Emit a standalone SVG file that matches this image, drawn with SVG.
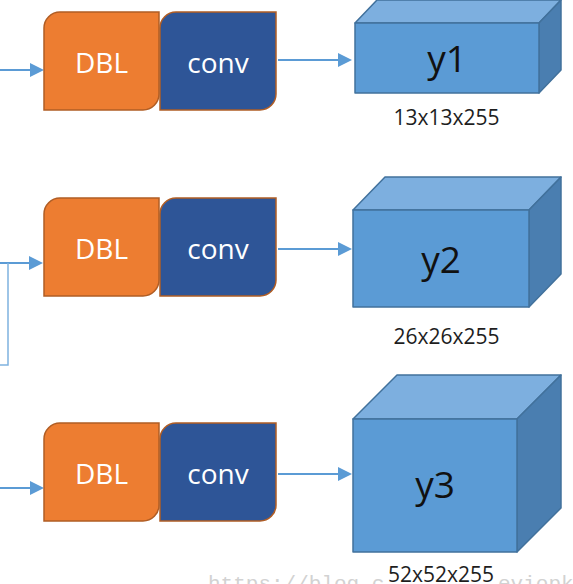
<svg xmlns="http://www.w3.org/2000/svg" width="573" height="584" viewBox="0 0 573 584">
<style>
.dbl{fill:#ED7D31;stroke:#B05D24;stroke-width:1.5}
.conv{fill:#2E5597;stroke:#B05D24;stroke-width:1.5}
.bt{font-family:"Open Sans","Noto Sans",sans-serif;font-size:28px;fill:#ffffff;text-anchor:middle}
.front{fill:#5B9BD5;stroke:#41719C;stroke-width:1.5;stroke-linejoin:round}
.top{fill:#7DAFDF;stroke:#41719C;stroke-width:1.5;stroke-linejoin:round}
.side{fill:#4A7EB0;stroke:#41719C;stroke-width:1.5;stroke-linejoin:round}
.yt{font-family:"Open Sans","Noto Sans",sans-serif;font-size:37px;fill:#111111;text-anchor:middle}
.dim{font-family:"Open Sans","Noto Sans",sans-serif;font-size:21px;fill:#1e1e1e;text-anchor:middle}
.arr{stroke:#5B9BD5;stroke-width:2;fill:none}
.br{stroke:#7FB2E0;stroke-width:1.5;fill:none}
.wm{font-family:"Liberation Mono",monospace;font-size:21px;fill:#d2d2d2}
</style>
<defs>
<marker id="ah" markerUnits="userSpaceOnUse" markerWidth="14" markerHeight="14" refX="6" refY="7" orient="auto">
<path d="M0,0 L14,7 L0,14 Z" fill="#5B9BD5"/>
</marker>
<path id="blk" d="M0,16 A16,16 0 0 1 16,0 H115 V82 A16,16 0 0 1 99,98 H0 Z"/>
<path id="blk2" d="M0,16 A16,16 0 0 1 16,0 H116 V82 A16,16 0 0 1 100,98 H0 Z"/>
</defs>

<text class="wm" x="208" y="590">https://blog.c</text>
<text class="wm" x="498" y="590">eviopku</text>

<g id="connectors">
<line class="arr" x1="0" y1="70" x2="36" y2="70" marker-end="url(#ah)"/>
<line class="arr" x1="0" y1="263" x2="35" y2="263" marker-end="url(#ah)"/>
<polyline class="br" points="8,263 8,365 0,365"/>
<line class="arr" x1="0" y1="488" x2="36" y2="488" marker-end="url(#ah)"/>
<line class="arr" x1="278" y1="60" x2="344" y2="60" marker-end="url(#ah)"/>
<line class="arr" x1="278" y1="249" x2="344" y2="249" marker-end="url(#ah)"/>
<line class="arr" x1="278" y1="474" x2="344" y2="474" marker-end="url(#ah)"/>
</g>

<g id="dbl1"><use href="#blk" class="dbl" x="44" y="12"/><text class="bt" x="101.5" y="73">DBL</text></g>
<g id="conv1"><use href="#blk2" class="conv" x="160" y="12"/><text class="bt" x="218" y="73">conv</text></g>
<g id="dbl2"><use href="#blk" class="dbl" x="44" y="198"/><text class="bt" x="101.5" y="259">DBL</text></g>
<g id="conv2"><use href="#blk2" class="conv" x="160" y="198"/><text class="bt" x="218" y="259">conv</text></g>
<g id="dbl3"><use href="#blk" class="dbl" x="44" y="423"/><text class="bt" x="101.5" y="484">DBL</text></g>
<g id="conv3"><use href="#blk2" class="conv" x="160" y="423"/><text class="bt" x="218" y="484">conv</text></g>

<g id="y1">
<polygon class="top" points="355,23 377,0 561,0 539,23"/>
<polygon class="side" points="539,23 561,0 561,70 539,93"/>
<rect class="front" x="355" y="23" width="184" height="70"/>
<text class="yt" x="447" y="72">y1</text>
<text class="dim" x="446.5" y="125">13x13x255</text>
</g>
<g id="y2">
<polygon class="top" points="353,210 385,177 561,177 529,210"/>
<polygon class="side" points="529,210 561,177 561,274 529,307"/>
<rect class="front" x="353" y="210" width="176" height="97"/>
<text class="yt" x="441" y="273">y2</text>
<text class="dim" x="446.5" y="344">26x26x255</text>
</g>
<g id="y3">
<polygon class="top" points="353,419 397,375 561,375 517,419"/>
<polygon class="side" points="517,419 561,375 561,508 517,552"/>
<rect class="front" x="353" y="419" width="164" height="133"/>
<text class="yt" x="435" y="498">y3</text>
<text class="dim" x="441" y="582">52x52x255</text>
</g>
</svg>
